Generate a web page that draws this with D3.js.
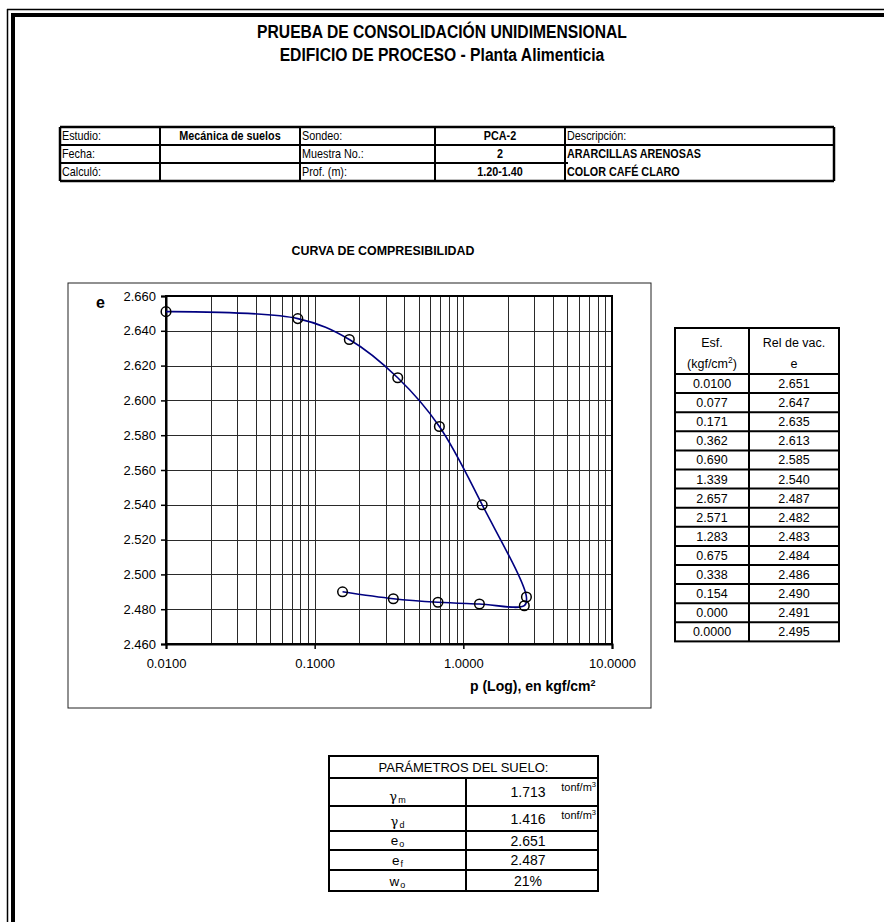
<!DOCTYPE html>
<html><head><meta charset="utf-8">
<script src="https://cdn.jsdelivr.net/npm/d3@7"></script>
<style>body{margin:0;background:#fff} svg{display:block}</style>
</head><body><svg id="c" width="884" height="922"></svg>
<script>
// ---------- data ----------
const pressure = [0.0100, 0.077, 0.171, 0.362, 0.690, 1.339, 2.657, 2.571, 1.283, 0.675, 0.338, 0.154, 0.000, 0.0000];
const pressureLabels = ["0.0100","0.077","0.171","0.362","0.690","1.339","2.657","2.571","1.283","0.675","0.338","0.154","0.000","0.0000"];
const voidRatio = [2.651, 2.647, 2.635, 2.613, 2.585, 2.540, 2.487, 2.482, 2.483, 2.484, 2.486, 2.490, 2.491, 2.495];
const voidLabels = ["2.651","2.647","2.635","2.613","2.585","2.540","2.487","2.482","2.483","2.484","2.486","2.490","2.491","2.495"];
const yTicks = [2.46, 2.48, 2.50, 2.52, 2.54, 2.56, 2.58, 2.60, 2.62, 2.64, 2.66];
const xTicks = [0.01, 0.1, 1, 10];
const xTickLabels = ["0.0100", "0.1000", "1.0000", "10.0000"];
const infoCol1 = ["Estudio:", "Fecha:", "Calculó:"];
const infoCol2 = ["Mecánica de suelos", "", ""];
const infoCol3 = ["Sondeo:", "Muestra No.:", "Prof. (m):"];
const infoCol4 = ["PCA-2", "2", "1.20-1.40"];
const infoCol5 = ["Descripción:", "ARARCILLAS ARENOSAS", "COLOR CAFÉ CLARO"];
const paramSymbol = ["γ", "γ", "e", "e", "w"];
const paramSub = ["m", "d", "o", "f", "o"];
const paramValues = ["1.713", "1.416", "2.651", "2.487", "21%"];
const paramUnits = ["tonf/m", "tonf/m", "", "", ""];

// ---------- setup ----------
const svg = d3.select("#c");
const SANS = "'Liberation Sans',Arial,Helvetica,sans-serif";

svg.append("rect").attr("width", 884).attr("height", 922).attr("fill", "#fff");

// condensed text helper (Arial Narrow look)
function narrow(parent, x, y, txt, size, bold, anchor, sx) {
  return parent.append("text")
    .attr("transform", `translate(${x},${y}) scale(${sx},1)`)
    .attr("text-anchor", anchor)
    .attr("font-family", SANS).attr("font-size", size)
    .attr("font-weight", bold ? "bold" : "normal")
    .text(txt);
}

// page frame (double line, top-left)
const frame = svg.append("g");
frame.append("line").attr("x1", 7.5).attr("x2", 7.5).attr("y1", 9).attr("y2", 922).attr("stroke", "#000").attr("stroke-width", 1.5);
frame.append("line").attr("x1", 7).attr("x2", 884).attr("y1", 9.5).attr("y2", 9.5).attr("stroke", "#000").attr("stroke-width", 1.5);
frame.append("line").attr("x1", 13).attr("x2", 13).attr("y1", 13).attr("y2", 922).attr("stroke", "#000").attr("stroke-width", 4);
frame.append("line").attr("x1", 11).attr("x2", 884).attr("y1", 15).attr("y2", 15).attr("stroke", "#000").attr("stroke-width", 4);

// titles
narrow(svg, 442, 38, "PRUEBA DE CONSOLIDACIÓN UNIDIMENSIONAL", 18, true, "middle", 0.87);
narrow(svg, 442, 61, "EDIFICIO DE PROCESO - Planta Alimenticia", 18, true, "middle", 0.87);

// ---------- info table ----------
const icols = [60, 160, 300, 435, 565, 834];
const irows = [127, 145, 163, 181];
const it = svg.append("g");
icols.forEach((x, i) => it.append("line").attr("x1", x).attr("x2", x).attr("y1", irows[0]).attr("y2", irows[3])
  .attr("stroke", "#000").attr("stroke-width", (i === 0 || i === 5) ? 2.5 : 2));
it.append("line").attr("x1", icols[0]).attr("x2", icols[5]).attr("y1", irows[0]).attr("y2", irows[0]).attr("stroke", "#000").attr("stroke-width", 2.5);
it.append("line").attr("x1", icols[0]).attr("x2", icols[5]).attr("y1", irows[3]).attr("y2", irows[3]).attr("stroke", "#000").attr("stroke-width", 2.5);
it.append("line").attr("x1", icols[0]).attr("x2", icols[5]).attr("y1", irows[1]).attr("y2", irows[1]).attr("stroke", "#000").attr("stroke-width", 2);
it.append("line").attr("x1", icols[0]).attr("x2", icols[4] + 3).attr("y1", irows[2]).attr("y2", irows[2]).attr("stroke", "#000").attr("stroke-width", 2);
const infoCols = [infoCol1, infoCol2, infoCol3, infoCol4, infoCol5];
infoCols.forEach((col, c) => {
  col.forEach((t, r) => {
    if (!t) return;
    const cy = (irows[r] + irows[r + 1]) / 2 + 4.3;
    const centered = (c === 1 || c === 3);
    const bold = (c === 1 || c === 3 || (c === 4 && r > 0));
    narrow(it, centered ? (icols[c] + icols[c + 1]) / 2 : icols[c] + 2, cy, t, 12, bold,
      centered ? "middle" : "start", 0.9);
  });
});

// ---------- chart ----------
svg.append("text").attr("x", 383).attr("y", 255).attr("text-anchor", "middle")
  .attr("font-family", SANS).attr("font-weight", "bold").attr("font-size", 12.4)
  .text("CURVA DE COMPRESIBILIDAD");

svg.append("rect").attr("x", 68).attr("y", 283).attr("width", 583).attr("height", 425)
  .attr("fill", "#fff").attr("stroke", "#222").attr("stroke-width", 1);

const pl = 166, pr = 612, pt = 296, pb = 644;
const x = d3.scaleLog().domain([0.01, 10]).range([pl, pr]);
const y = d3.scaleLinear().domain([2.46, 2.66]).range([pb, pt]);

const grid = svg.append("g").attr("stroke", "#2a2a2a").attr("stroke-width", 1);
const minor = [];
[0.01, 0.1, 1].forEach(d => { for (let k = 1; k <= 9; k++) minor.push(k * d); });
minor.push(10);
grid.selectAll("line.v").data(minor).join("line").attr("class", "v")
  .attr("x1", d => Math.round(x(d)) + 0.5).attr("x2", d => Math.round(x(d)) + 0.5)
  .attr("y1", pt).attr("y2", pb);
grid.selectAll("line.h").data(yTicks).join("line").attr("class", "h")
  .attr("x1", pl).attr("x2", pr)
  .attr("y1", d => Math.round(y(d)) + 0.5).attr("y2", d => Math.round(y(d)) + 0.5);

svg.append("rect").attr("x", pl).attr("y", pt).attr("width", pr - pl).attr("height", pb - pt)
  .attr("fill", "none").attr("stroke", "#000").attr("stroke-width", 2);

const yAxis = svg.append("g").attr("transform", `translate(${pl},0)`)
  .call(d3.axisLeft(y).tickValues(yTicks).tickFormat(d3.format(".3f")).tickSize(5).tickPadding(5));
const xAxis = svg.append("g").attr("transform", `translate(0,${pb})`)
  .call(d3.axisBottom(x).tickValues(xTicks).tickFormat((d, i) => xTickLabels[i]).tickSize(5).tickPadding(10));
[yAxis, xAxis].forEach(a => {
  a.select(".domain").attr("stroke", "#000").attr("stroke-width", 2);
  a.selectAll(".tick line").attr("stroke", "#000").attr("stroke-width", 1.5);
  a.selectAll(".tick text").attr("font-family", SANS).attr("font-size", 13).attr("fill", "#000");
});

svg.append("text").attr("x", 96).attr("y", 308).attr("font-family", SANS)
  .attr("font-weight", "bold").attr("font-size", 16).text("e");

const xt = svg.append("text").attr("x", 470).attr("y", 691).attr("font-family", SANS)
  .attr("font-weight", "bold").attr("font-size", 14);
xt.append("tspan").text("p (Log), en kgf/cm");
xt.append("tspan").attr("font-size", 9).attr("dy", -5).text("2");

const pts = pressure.map((p, i) => ({ p, e: voidRatio[i] })).filter(d => d.p > 0);
const line = d3.line().x(d => x(d.p)).y(d => y(d.e)).curve(d3.curveCatmullRom.alpha(0.5));
svg.append("path").datum(pts).attr("d", line).attr("fill", "none")
  .attr("stroke", "#000080").attr("stroke-width", 1.6);
svg.selectAll("circle.m").data(pts).join("circle").attr("class", "m")
  .attr("cx", d => x(d.p)).attr("cy", d => y(d.e)).attr("r", 4.8)
  .attr("fill", "none").attr("stroke", "#000").attr("stroke-width", 1.5);

// ---------- right data table ----------
const tl = 675, tm = 749, tr = 839, tt = 328, th = 374, rh = 19.1;
const tb = th + rh * pressure.length;
const rt = svg.append("g");
rt.append("rect").attr("x", tl).attr("y", tt).attr("width", tr - tl).attr("height", tb - tt)
  .attr("fill", "none").attr("stroke", "#000").attr("stroke-width", 2);
rt.append("line").attr("x1", tm).attr("x2", tm).attr("y1", tt).attr("y2", tb).attr("stroke", "#000").attr("stroke-width", 2);
for (let i = 0; i < pressure.length; i++) {
  const yy = th + rh * i;
  rt.append("line").attr("x1", tl).attr("x2", tr).attr("y1", yy).attr("y2", yy).attr("stroke", "#000").attr("stroke-width", 2);
  rt.append("text").attr("x", (tl + tm) / 2).attr("y", yy + rh / 2 + 4.5).attr("text-anchor", "middle")
    .attr("font-family", SANS).attr("font-size", 12.5).text(pressureLabels[i]);
  rt.append("text").attr("x", (tm + tr) / 2).attr("y", yy + rh / 2 + 4.5).attr("text-anchor", "middle")
    .attr("font-family", SANS).attr("font-size", 12.5).text(voidLabels[i]);
}
rt.append("text").attr("x", (tl + tm) / 2).attr("y", 347).attr("text-anchor", "middle")
  .attr("font-family", SANS).attr("font-size", 12.5).text("Esf.");
const kg = rt.append("text").attr("x", (tl + tm) / 2).attr("y", 368).attr("text-anchor", "middle")
  .attr("font-family", SANS).attr("font-size", 12.5);
kg.append("tspan").text("(kgf/cm");
kg.append("tspan").attr("font-size", 8.5).attr("dy", -5).text("2");
kg.append("tspan").attr("dy", 5).text(")");
rt.append("text").attr("x", (tm + tr) / 2).attr("y", 347).attr("text-anchor", "middle")
  .attr("font-family", SANS).attr("font-size", 12.5).text("Rel de vac.");
rt.append("text").attr("x", (tm + tr) / 2).attr("y", 368).attr("text-anchor", "middle")
  .attr("font-family", SANS).attr("font-size", 12.5).text("e");

// ---------- parameters table ----------
const bl = 329, bm = 466, br = 598;
const brows = [756, 778, 806, 831, 850, 870, 891];
const bt = svg.append("g");
bt.append("rect").attr("x", bl).attr("y", brows[0]).attr("width", br - bl).attr("height", brows[6] - brows[0])
  .attr("fill", "none").attr("stroke", "#000").attr("stroke-width", 2);
brows.slice(1, 6).forEach(yy => bt.append("line").attr("x1", bl).attr("x2", br).attr("y1", yy).attr("y2", yy)
  .attr("stroke", "#000").attr("stroke-width", 2));
bt.append("line").attr("x1", bm).attr("x2", bm).attr("y1", brows[1]).attr("y2", brows[6]).attr("stroke", "#000").attr("stroke-width", 2);
bt.append("text").attr("x", (bl + br) / 2).attr("y", brows[1] - 6).attr("text-anchor", "middle")
  .attr("font-family", SANS).attr("font-size", 13).text("PARÁMETROS DEL SUELO:");
paramSymbol.forEach((s, i) => {
  const r0 = brows[i + 1], r1 = brows[i + 2];
  const base = r1 - 5;
  const g = bt.append("text").attr("x", (bl + bm) / 2).attr("y", base).attr("text-anchor", "middle")
    .attr("font-size", 13);
  g.append("tspan").attr("font-family", i < 2 ? "'DejaVu Serif','Liberation Serif',serif" : SANS)
    .attr("font-size", i < 2 ? 13 : 13.5).text(s);
  g.append("tspan").attr("font-family", SANS).attr("font-size", 9).attr("dy", 2).attr("dx", 1).text(paramSub[i]);
  bt.append("text").attr("x", 528).attr("y", (r0 + r1) / 2 + 5).attr("text-anchor", "middle")
    .attr("font-family", SANS).attr("font-size", 14).text(paramValues[i]);
  if (paramUnits[i]) {
    const u = bt.append("text").attr("x", br - 2).attr("y", r0 + 13).attr("text-anchor", "end")
      .attr("font-family", SANS).attr("font-size", 11);
    u.append("tspan").text(paramUnits[i]);
    u.append("tspan").attr("font-size", 7.5).attr("dy", -4).text("3");
  }
});
</script></body></html>
